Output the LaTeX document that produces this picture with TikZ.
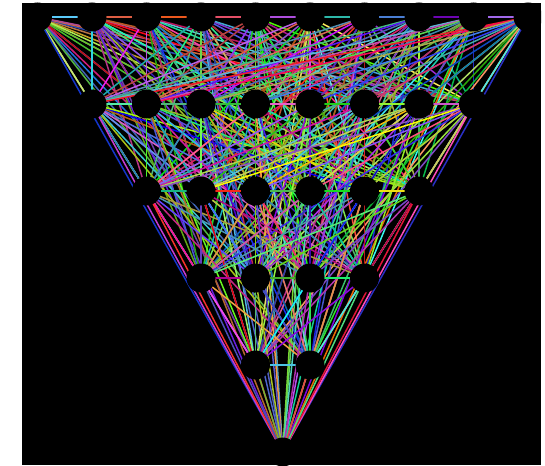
\documentclass[tikz,border=0pt]{standalone}
\usepackage{tikz}
\usepackage{xcolor}

\begin{document}
\begin{tikzpicture}[x=1pt, y=-1pt, hole/.style={circle, fill=black, minimum size=29pt, inner sep=0pt}, wire/.style={line width=1.5pt}]
\useasboundingbox (0,0) rectangle (545,465);
\fill[white] (0,0) rectangle (545,465);
\fill[black] (22,3) rectangle (541,465);
\begin{scope}
\clip (22,3) rectangle (541,465);
\foreach \r/\cnt/\xa/\first in {0/10/37.5/1, 1/8/92/11, 2/6/146.5/19, 3/4/201/25, 4/2/255.5/29, 5/1/282.75/31} {
  \foreach \k in {1,...,\cnt} {
    \pgfmathtruncatemacro\idx{\first+\k-1}
    \coordinate (p\idx) at ({\xa+54.5*(\k-1)}, {17+87*\r});
  }
}
\pgfmathsetseed{11}
\foreach \i in {1,...,30} {
  \pgfmathtruncatemacro\ja{\i+1}
  \foreach \j in {\ja,...,31} {
    \pgfmathsetmacro\hu{rnd}
    \pgfmathsetmacro\sa{0.55+0.45*rnd}
    \pgfmathsetmacro\br{0.65+0.35*rnd}
    \definecolor{linecol}{hsb}{\hu,\sa,\br}
    \draw[wire, linecol] (p\i) -- (p\j);
  }
}
\foreach \n in {1,...,31}
  \node[hole] (c\n) at (p\n) {};
\end{scope}
\end{tikzpicture}
\end{document}
